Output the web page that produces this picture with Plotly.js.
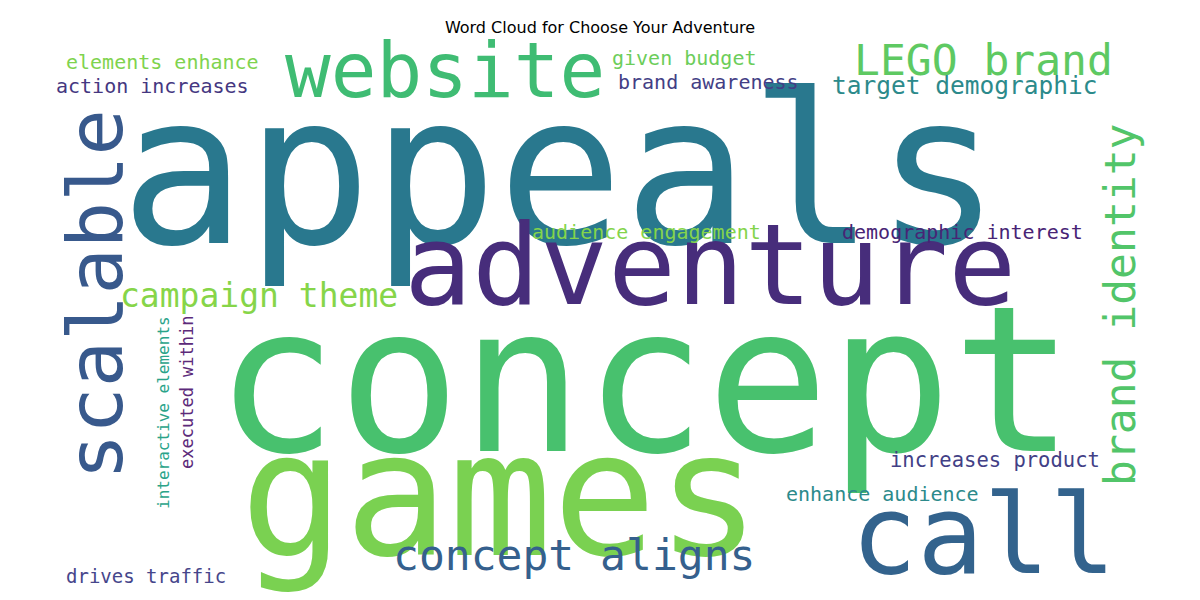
<!DOCTYPE html>
<html>
<head>
<meta charset="utf-8">
<script src="https://cdn.plot.ly/plotly-3.0.1.min.js"></script>
<style>body{margin:0;background:#fff}</style>
</head>
<body>
<div id="cloud"></div>
<script>
// word cloud data
var words = ["appeals","concept","games","adventure","website","call","scalable",
  "campaign theme","LEGO brand","target demographic","brand identity","concept aligns",
  "elements enhance","action increases","given budget","brand awareness",
  "audience engagement","demographic interest","interactive elements","executed within",
  "increases product","enhance audience","drives traffic"];
var wx = [560,645,500,710,445,983,95,259,983,965,1120,574,162,152,684,708,646,962,163,187,995,882,146];
var wy = [170,380,495,265,70,535,295,295,60,85,305,555,62,86,58,82,232,232,413,392,460,494,576];
var sizes = [209,204,173,113,76,110,77,33,43,24.5,43,43,20,20,20,20,20,20,16,17,20.5,20,19];
var angles = [0,0,0,0,0,0,-90,0,0,0,-90,0,0,0,0,0,0,0,-90,-90,0,0,0];
var colors = ["#29788e","#48c16e","#7ad151","#472d7b","#3fbc73","#33638d","#38598c",
  "#86d549","#5ec962","#2c8a8b","#52c569","#35608d","#7fd34e","#453781","#6ccd5a",
  "#433e85","#84d44b","#482475","#2aa389","#5c2a7a","#424086","#2c8a8b","#46468b"];

var annotations = words.map(function(w, i) {
  return {
    x: wx[i], y: wy[i], xref: 'x', yref: 'y', text: w, showarrow: false,
    textangle: angles[i], xanchor: 'center', yanchor: 'middle',
    font: {family: 'DejaVu Sans Mono', size: sizes[i], color: colors[i]}
  };
});

var layout = {
  width: 1200, height: 600,
  margin: {l: 0, r: 0, t: 0, b: 0},
  title: {text: 'Word Cloud for Choose Your Adventure', x: 0.5, y: 0.963,
    font: {family: 'DejaVu Sans', size: 16, color: '#000'}},
  xaxis: {range: [0, 1200], visible: false, fixedrange: true},
  yaxis: {range: [600, 0], visible: false, fixedrange: true},
  annotations: annotations,
  paper_bgcolor: '#fff', plot_bgcolor: '#fff',
  showlegend: false
};

Plotly.newPlot('cloud', [{x: [], y: [], type: 'scatter'}], layout, {displayModeBar: false});
</script>
</body>
</html>
